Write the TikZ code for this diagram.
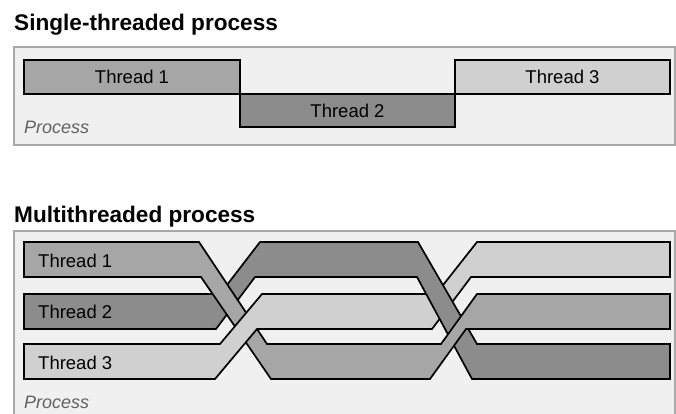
\documentclass[tikz,border=0pt]{standalone}
\usepackage{fontspec}
\setmainfont{Liberation Sans}
\definecolor{toneA}{HTML}{A6A6A6}
\definecolor{toneB}{HTML}{8C8C8C}
\definecolor{toneC}{HTML}{D0D0D0}
\definecolor{panel}{HTML}{F0F0F0}
\definecolor{panelrule}{HTML}{A8A8A8}

% outlines of the three interleaved threads
\newcommand\bandone{(24,242) -- (199,242) -- (267,344) -- (441,344) -- (477,294) -- (670,294)
  -- (670,329) -- (466,329) -- (430,379) -- (271,379) -- (201,277) -- (24,277) -- cycle}
\newcommand\bandtwo{(24,294) -- (220,294) -- (260,242) -- (418,242) -- (477,344) -- (670,344)
  -- (670,379) -- (472,379) -- (417,277) -- (255,277) -- (216,329) -- (24,329) -- cycle}
\newcommand\bandthree{(24,344) -- (220,344) -- (262,294) -- (436,294) -- (477,242) -- (670,242)
  -- (670,277) -- (471,277) -- (432,329) -- (257,329) -- (215,379) -- (24,379) -- cycle}

\begin{document}
\begin{tikzpicture}[x=1pt,y=-1pt,line join=miter,
  heading/.style={anchor=base west,inner sep=0pt,text=black,
    font=\fontsize{22.6}{27}\selectfont\bfseries},
  threadtext/.style={inner sep=0pt,text=black,font=\fontsize{18.5}{22}\selectfont},
  proclabel/.style={anchor=base west,inner sep=0pt,text=black!62,
    font=\fontsize{18}{22}\selectfont\itshape},
  frame/.style={draw=panelrule,fill=panel,line width=1.2pt},
  slot/.style={draw=black,line width=1.7pt,inner sep=0pt,threadtext},
  band/.style={draw=black,line width=1.7pt}]
\useasboundingbox (0,0) rectangle (676,414);
\clip (0,0) rectangle (676,414);

% single-threaded process
\node[heading] (h1) at (14,31) {Single-threaded process};
\path[frame] (14,47) rectangle (675,145);
\node[slot,fill=toneA,minimum width=216pt,minimum height=34pt] (s1) at (132,77) {Thread 1};
\node[slot,fill=toneC,minimum width=215pt,minimum height=34pt] (s3) at (562.5,77) {Thread 3};
\node[slot,fill=toneB,minimum width=215pt,minimum height=33pt] (s2) at (347.5,110.5) {Thread 2};
\node[proclabel] (p1) at (24,134) {Process};

% multithreaded process
\node[heading] (h2) at (14,222) {Multithreaded process};
\path[frame] (14,231) rectangle (675,430);

% left crossing: thread 3 over thread 1 over thread 2
\begin{scope}
  \clip (0,230) rectangle (340,414);
  \draw[band,fill=toneB] \bandtwo;
  \draw[band,fill=toneA] \bandone;
  \draw[band,fill=toneC] \bandthree;
\end{scope}
% right crossing: thread 1 over thread 2 over thread 3
\begin{scope}
  \clip (340,230) rectangle (676,414);
  \draw[band,fill=toneC] \bandthree;
  \draw[band,fill=toneB] \bandtwo;
  \draw[band,fill=toneA] \bandone;
\end{scope}

\node[threadtext,anchor=base west] (m1) at (38,267) {Thread 1};
\node[threadtext,anchor=base west] (m2) at (38,318.5) {Thread 2};
\node[threadtext,anchor=base west] (m3) at (38,369.5) {Thread 3};
\node[proclabel] (p2) at (24,408) {Process};
\end{tikzpicture}
\end{document}
